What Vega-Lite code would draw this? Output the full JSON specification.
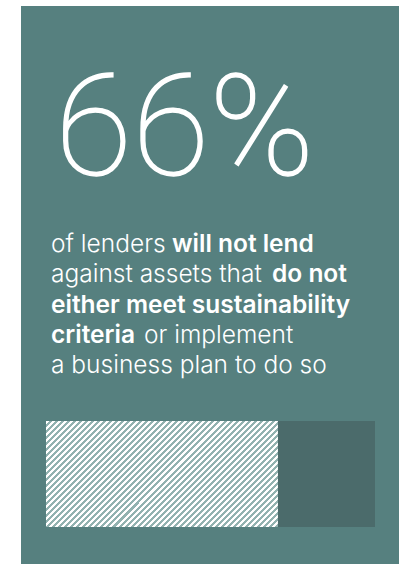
{
  "$schema": "https://vega.github.io/schema/vega-lite/v6.json",
  "width": 378,
  "height": 558,
  "autosize": {"type": "none"},
  "padding": {"left": 21, "top": 6, "right": 4, "bottom": 0},
  "background": "#ffffff",
  "config": {"view": {"fill": "#56807f", "stroke": null}},
  "datasets": {
    "bar": [
      {"group": "lenders", "answer": "will not lend", "share": 0.705},
      {"group": "lenders", "answer": "other", "share": 0.295}
    ],
    "copy": [
      {"line": 1, "part": 1, "text": "of lenders", "emphasis": false},
      {"line": 1, "part": 2, "text": "will not lend", "emphasis": true},
      {"line": 2, "part": 1, "text": "against assets that", "emphasis": false},
      {"line": 2, "part": 2, "text": "do not", "emphasis": true},
      {"line": 3, "part": 1, "text": "either meet sustainability", "emphasis": true},
      {"line": 4, "part": 1, "text": "criteria", "emphasis": true},
      {"line": 4, "part": 2, "text": "or implement", "emphasis": false},
      {"line": 5, "part": 1, "text": "a business plan to do so", "emphasis": false}
    ],
    "headline": [{"headline": "66%"}]
  },
  "layer": [
    {
      "data": {"name": "bar"},
      "mark": {"type": "bar", "fill": "#4b6b6b"},
      "encoding": {
        "x": {"field": "share", "type": "quantitative", "stack": "zero", "scale": {"domain": [0, 1], "range": [25, 354], "nice": false}, "axis": null},
        "y": {"field": "group", "type": "nominal", "scale": {"type": "band", "range": [415, 521], "paddingInner": 0, "paddingOuter": 0}, "axis": null}
      }
    },
    {
      "data": {"name": "bar"},
      "transform": [{"filter": "datum.answer == 'will not lend'"}],
      "mark": {
        "type": "bar",
        "fill": {
          "gradient": "linear", "x1": 0, "y1": 0, "x2": 1.2052, "y2": 0.5507,
          "stops": [
{"offset":0,"color":"#fff"},{"offset":0.00893,"color":"#fff"},{"offset":0.00893,"color":"#92b2b0"},{"offset":0.01786,"color":"#92b2b0"},
{"offset":0.01786,"color":"#fff"},{"offset":0.02679,"color":"#fff"},{"offset":0.02679,"color":"#92b2b0"},{"offset":0.03571,"color":"#92b2b0"},
{"offset":0.03571,"color":"#fff"},{"offset":0.04464,"color":"#fff"},{"offset":0.04464,"color":"#92b2b0"},{"offset":0.05357,"color":"#92b2b0"},
{"offset":0.05357,"color":"#fff"},{"offset":0.0625,"color":"#fff"},{"offset":0.0625,"color":"#92b2b0"},{"offset":0.07143,"color":"#92b2b0"},
{"offset":0.07143,"color":"#fff"},{"offset":0.08036,"color":"#fff"},{"offset":0.08036,"color":"#92b2b0"},{"offset":0.08929,"color":"#92b2b0"},
{"offset":0.08929,"color":"#fff"},{"offset":0.09821,"color":"#fff"},{"offset":0.09821,"color":"#92b2b0"},{"offset":0.10714,"color":"#92b2b0"},
{"offset":0.10714,"color":"#fff"},{"offset":0.11607,"color":"#fff"},{"offset":0.11607,"color":"#92b2b0"},{"offset":0.125,"color":"#92b2b0"},
{"offset":0.125,"color":"#fff"},{"offset":0.13393,"color":"#fff"},{"offset":0.13393,"color":"#92b2b0"},{"offset":0.14286,"color":"#92b2b0"},
{"offset":0.14286,"color":"#fff"},{"offset":0.15179,"color":"#fff"},{"offset":0.15179,"color":"#92b2b0"},{"offset":0.16071,"color":"#92b2b0"},
{"offset":0.16071,"color":"#fff"},{"offset":0.16964,"color":"#fff"},{"offset":0.16964,"color":"#92b2b0"},{"offset":0.17857,"color":"#92b2b0"},
{"offset":0.17857,"color":"#fff"},{"offset":0.1875,"color":"#fff"},{"offset":0.1875,"color":"#92b2b0"},{"offset":0.19643,"color":"#92b2b0"},
{"offset":0.19643,"color":"#fff"},{"offset":0.20536,"color":"#fff"},{"offset":0.20536,"color":"#92b2b0"},{"offset":0.21429,"color":"#92b2b0"},
{"offset":0.21429,"color":"#fff"},{"offset":0.22321,"color":"#fff"},{"offset":0.22321,"color":"#92b2b0"},{"offset":0.23214,"color":"#92b2b0"},
{"offset":0.23214,"color":"#fff"},{"offset":0.24107,"color":"#fff"},{"offset":0.24107,"color":"#92b2b0"},{"offset":0.25,"color":"#92b2b0"},
{"offset":0.25,"color":"#fff"},{"offset":0.25893,"color":"#fff"},{"offset":0.25893,"color":"#92b2b0"},{"offset":0.26786,"color":"#92b2b0"},
{"offset":0.26786,"color":"#fff"},{"offset":0.27679,"color":"#fff"},{"offset":0.27679,"color":"#92b2b0"},{"offset":0.28571,"color":"#92b2b0"},
{"offset":0.28571,"color":"#fff"},{"offset":0.29464,"color":"#fff"},{"offset":0.29464,"color":"#92b2b0"},{"offset":0.30357,"color":"#92b2b0"},
{"offset":0.30357,"color":"#fff"},{"offset":0.3125,"color":"#fff"},{"offset":0.3125,"color":"#92b2b0"},{"offset":0.32143,"color":"#92b2b0"},
{"offset":0.32143,"color":"#fff"},{"offset":0.33036,"color":"#fff"},{"offset":0.33036,"color":"#92b2b0"},{"offset":0.33929,"color":"#92b2b0"},
{"offset":0.33929,"color":"#fff"},{"offset":0.34821,"color":"#fff"},{"offset":0.34821,"color":"#92b2b0"},{"offset":0.35714,"color":"#92b2b0"},
{"offset":0.35714,"color":"#fff"},{"offset":0.36607,"color":"#fff"},{"offset":0.36607,"color":"#92b2b0"},{"offset":0.375,"color":"#92b2b0"},
{"offset":0.375,"color":"#fff"},{"offset":0.38393,"color":"#fff"},{"offset":0.38393,"color":"#92b2b0"},{"offset":0.39286,"color":"#92b2b0"},
{"offset":0.39286,"color":"#fff"},{"offset":0.40179,"color":"#fff"},{"offset":0.40179,"color":"#92b2b0"},{"offset":0.41071,"color":"#92b2b0"},
{"offset":0.41071,"color":"#fff"},{"offset":0.41964,"color":"#fff"},{"offset":0.41964,"color":"#92b2b0"},{"offset":0.42857,"color":"#92b2b0"},
{"offset":0.42857,"color":"#fff"},{"offset":0.4375,"color":"#fff"},{"offset":0.4375,"color":"#92b2b0"},{"offset":0.44643,"color":"#92b2b0"},
{"offset":0.44643,"color":"#fff"},{"offset":0.45536,"color":"#fff"},{"offset":0.45536,"color":"#92b2b0"},{"offset":0.46429,"color":"#92b2b0"},
{"offset":0.46429,"color":"#fff"},{"offset":0.47321,"color":"#fff"},{"offset":0.47321,"color":"#92b2b0"},{"offset":0.48214,"color":"#92b2b0"},
{"offset":0.48214,"color":"#fff"},{"offset":0.49107,"color":"#fff"},{"offset":0.49107,"color":"#92b2b0"},{"offset":0.5,"color":"#92b2b0"},
{"offset":0.5,"color":"#fff"},{"offset":0.50893,"color":"#fff"},{"offset":0.50893,"color":"#92b2b0"},{"offset":0.51786,"color":"#92b2b0"},
{"offset":0.51786,"color":"#fff"},{"offset":0.52679,"color":"#fff"},{"offset":0.52679,"color":"#92b2b0"},{"offset":0.53571,"color":"#92b2b0"},
{"offset":0.53571,"color":"#fff"},{"offset":0.54464,"color":"#fff"},{"offset":0.54464,"color":"#92b2b0"},{"offset":0.55357,"color":"#92b2b0"},
{"offset":0.55357,"color":"#fff"},{"offset":0.5625,"color":"#fff"},{"offset":0.5625,"color":"#92b2b0"},{"offset":0.57143,"color":"#92b2b0"},
{"offset":0.57143,"color":"#fff"},{"offset":0.58036,"color":"#fff"},{"offset":0.58036,"color":"#92b2b0"},{"offset":0.58929,"color":"#92b2b0"},
{"offset":0.58929,"color":"#fff"},{"offset":0.59821,"color":"#fff"},{"offset":0.59821,"color":"#92b2b0"},{"offset":0.60714,"color":"#92b2b0"},
{"offset":0.60714,"color":"#fff"},{"offset":0.61607,"color":"#fff"},{"offset":0.61607,"color":"#92b2b0"},{"offset":0.625,"color":"#92b2b0"},
{"offset":0.625,"color":"#fff"},{"offset":0.63393,"color":"#fff"},{"offset":0.63393,"color":"#92b2b0"},{"offset":0.64286,"color":"#92b2b0"},
{"offset":0.64286,"color":"#fff"},{"offset":0.65179,"color":"#fff"},{"offset":0.65179,"color":"#92b2b0"},{"offset":0.66071,"color":"#92b2b0"},
{"offset":0.66071,"color":"#fff"},{"offset":0.66964,"color":"#fff"},{"offset":0.66964,"color":"#92b2b0"},{"offset":0.67857,"color":"#92b2b0"},
{"offset":0.67857,"color":"#fff"},{"offset":0.6875,"color":"#fff"},{"offset":0.6875,"color":"#92b2b0"},{"offset":0.69643,"color":"#92b2b0"},
{"offset":0.69643,"color":"#fff"},{"offset":0.70536,"color":"#fff"},{"offset":0.70536,"color":"#92b2b0"},{"offset":0.71429,"color":"#92b2b0"},
{"offset":0.71429,"color":"#fff"},{"offset":0.72321,"color":"#fff"},{"offset":0.72321,"color":"#92b2b0"},{"offset":0.73214,"color":"#92b2b0"},
{"offset":0.73214,"color":"#fff"},{"offset":0.74107,"color":"#fff"},{"offset":0.74107,"color":"#92b2b0"},{"offset":0.75,"color":"#92b2b0"},
{"offset":0.75,"color":"#fff"},{"offset":0.75893,"color":"#fff"},{"offset":0.75893,"color":"#92b2b0"},{"offset":0.76786,"color":"#92b2b0"},
{"offset":0.76786,"color":"#fff"},{"offset":0.77679,"color":"#fff"},{"offset":0.77679,"color":"#92b2b0"},{"offset":0.78571,"color":"#92b2b0"},
{"offset":0.78571,"color":"#fff"},{"offset":0.79464,"color":"#fff"},{"offset":0.79464,"color":"#92b2b0"},{"offset":0.80357,"color":"#92b2b0"},
{"offset":0.80357,"color":"#fff"},{"offset":0.8125,"color":"#fff"},{"offset":0.8125,"color":"#92b2b0"},{"offset":0.82143,"color":"#92b2b0"},
{"offset":0.82143,"color":"#fff"},{"offset":0.83036,"color":"#fff"},{"offset":0.83036,"color":"#92b2b0"},{"offset":0.83929,"color":"#92b2b0"},
{"offset":0.83929,"color":"#fff"},{"offset":0.84821,"color":"#fff"},{"offset":0.84821,"color":"#92b2b0"},{"offset":0.85714,"color":"#92b2b0"},
{"offset":0.85714,"color":"#fff"},{"offset":0.86607,"color":"#fff"},{"offset":0.86607,"color":"#92b2b0"},{"offset":0.875,"color":"#92b2b0"},
{"offset":0.875,"color":"#fff"},{"offset":0.88393,"color":"#fff"},{"offset":0.88393,"color":"#92b2b0"},{"offset":0.89286,"color":"#92b2b0"},
{"offset":0.89286,"color":"#fff"},{"offset":0.90179,"color":"#fff"},{"offset":0.90179,"color":"#92b2b0"},{"offset":0.91071,"color":"#92b2b0"},
{"offset":0.91071,"color":"#fff"},{"offset":0.91964,"color":"#fff"},{"offset":0.91964,"color":"#92b2b0"},{"offset":0.92857,"color":"#92b2b0"},
{"offset":0.92857,"color":"#fff"},{"offset":0.9375,"color":"#fff"},{"offset":0.9375,"color":"#92b2b0"},{"offset":0.94643,"color":"#92b2b0"},
{"offset":0.94643,"color":"#fff"},{"offset":0.95536,"color":"#fff"},{"offset":0.95536,"color":"#92b2b0"},{"offset":0.96429,"color":"#92b2b0"},
{"offset":0.96429,"color":"#fff"},{"offset":0.97321,"color":"#fff"},{"offset":0.97321,"color":"#92b2b0"},{"offset":0.98214,"color":"#92b2b0"},
{"offset":0.98214,"color":"#fff"},{"offset":0.99107,"color":"#fff"},{"offset":0.99107,"color":"#92b2b0"},{"offset":1,"color":"#92b2b0"}
          ]
        }
      },
      "encoding": {
        "x": {"field": "share", "type": "quantitative", "stack": null, "axis": null},
        "y": {"field": "group", "type": "nominal", "scale": {"type": "band", "range": [415, 521], "paddingInner": 0, "paddingOuter": 0}, "axis": null}
      }
    },
    {
      "data": {"name": "headline"},
      "mark": {"type": "text", "font": "Roboto", "fontWeight": 100, "fontSize": 141, "color": "#ffffff", "stroke": "#ffffff", "strokeWidth": 1.4, "align": "left", "baseline": "alphabetic", "dx": 9},
      "encoding": {
        "x": {"datum": 0, "type": "quantitative"},
        "y": {"field": "headline", "type": "nominal", "scale": {"type": "point", "range": [169, 169]}, "axis": null},
        "text": {"field": "headline"}
      }
    },
    {
      "data": {"name": "copy"},
      "transform": [{"filter": "datum.part == 1 && !datum.emphasis"}],
      "mark": {"type": "text", "font": "Inter", "fontWeight": 300, "fontSize": 24.5, "color": "#ffffff", "align": "left", "baseline": "alphabetic", "dx": 5},
      "encoding": {
        "x": {"datum": 0, "type": "quantitative"},
        "y": {"field": "line", "type": "ordinal", "scale": {"type": "point", "domain": [1, 2, 3, 4, 5], "range": [246, 367], "padding": 0}, "axis": null},
        "text": {"field": "text"}
      }
    },
    {
      "data": {"name": "copy"},
      "transform": [{"filter": "datum.part == 1 && datum.emphasis"}],
      "mark": {"type": "text", "font": "Inter", "fontWeight": 600, "fontSize": 24.5, "color": "#ffffff", "align": "left", "baseline": "alphabetic", "dx": 5},
      "encoding": {
        "x": {"datum": 0, "type": "quantitative"},
        "y": {"field": "line", "type": "ordinal", "scale": {"type": "point", "domain": [1, 2, 3, 4, 5], "range": [246, 367], "padding": 0}, "axis": null},
        "text": {"field": "text"}
      }
    },
    {
      "data": {"name": "copy"},
      "transform": [{"filter": "datum.part == 2 && datum.line == 1"}],
      "mark": {"type": "text", "font": "Inter", "fontWeight": 600, "fontSize": 24.5, "color": "#ffffff", "align": "left", "baseline": "alphabetic", "dx": 126},
      "encoding": {
        "x": {"datum": 0, "type": "quantitative"},
        "y": {"field": "line", "type": "ordinal", "scale": {"type": "point", "domain": [1, 2, 3, 4, 5], "range": [246, 367], "padding": 0}, "axis": null},
        "text": {"field": "text"}
      }
    },
    {
      "data": {"name": "copy"},
      "transform": [{"filter": "datum.part == 2 && datum.line == 2"}],
      "mark": {"type": "text", "font": "Inter", "fontWeight": 600, "fontSize": 24.5, "color": "#ffffff", "align": "left", "baseline": "alphabetic", "dx": 226},
      "encoding": {
        "x": {"datum": 0, "type": "quantitative"},
        "y": {"field": "line", "type": "ordinal", "scale": {"type": "point", "domain": [1, 2, 3, 4, 5], "range": [246, 367], "padding": 0}, "axis": null},
        "text": {"field": "text"}
      }
    },
    {
      "data": {"name": "copy"},
      "transform": [{"filter": "datum.part == 2 && datum.line == 4"}],
      "mark": {"type": "text", "font": "Inter", "fontWeight": 300, "fontSize": 24.5, "color": "#ffffff", "align": "left", "baseline": "alphabetic", "dx": 98},
      "encoding": {
        "x": {"datum": 0, "type": "quantitative"},
        "y": {"field": "line", "type": "ordinal", "scale": {"type": "point", "domain": [1, 2, 3, 4, 5], "range": [246, 367], "padding": 0}, "axis": null},
        "text": {"field": "text"}
      }
    }
  ],
  "resolve": {"scale": {"y": "independent"}}
}
